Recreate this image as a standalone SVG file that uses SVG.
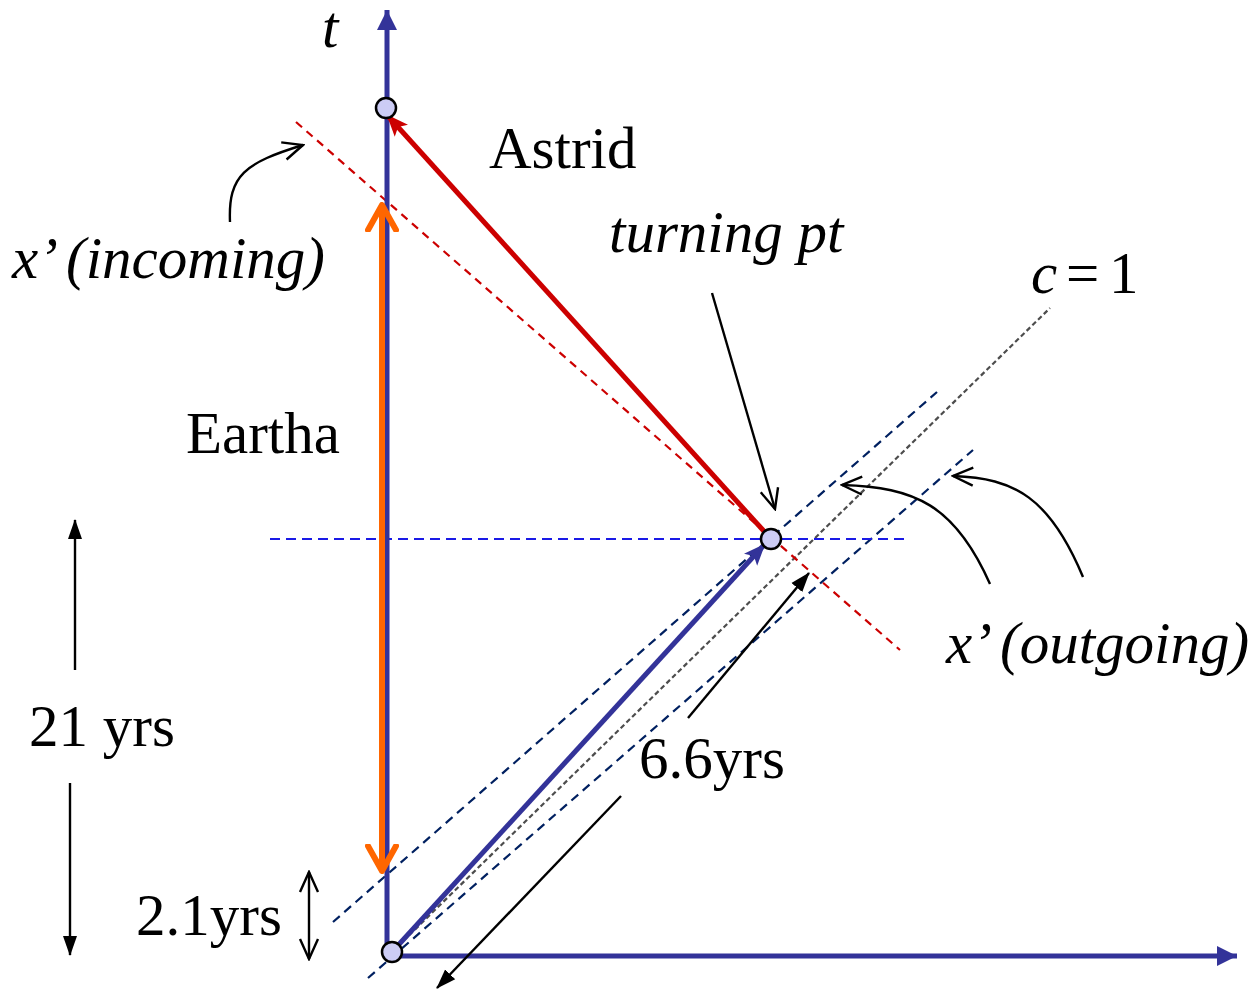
<svg xmlns="http://www.w3.org/2000/svg" width="1251" height="989" viewBox="0 0 1251 989">
<style>
text{font-family:"Liberation Serif","Times New Roman",serif;font-size:59px;fill:#000}
.it{font-style:italic}
.ptr{fill:none;stroke:#000;stroke-width:2.4}
.dash{fill:none;stroke-width:2.2}
.dot{fill:#ccccf5;stroke:#000;stroke-width:2.5}
</style>
<defs>
<marker id="axh" markerWidth="20" markerHeight="20" refX="20" refY="10" orient="auto" markerUnits="userSpaceOnUse" viewBox="0 0 20 20">
<path d="M0,0 L20,10 L0,20 Z" fill="#333399"/>
</marker>
<marker id="redh" markerWidth="22" markerHeight="20" refX="20" refY="10" orient="auto" markerUnits="userSpaceOnUse" viewBox="0 0 22 20">
<path d="M0,1 L22,10 L0,19 L5,10 Z" fill="#cc0000"/>
</marker>
<marker id="blueh" markerWidth="22" markerHeight="20" refX="20" refY="10" orient="auto" markerUnits="userSpaceOnUse" viewBox="0 0 22 20">
<path d="M0,1 L22,10 L0,19 L5,10 Z" fill="#333399"/>
</marker>
<marker id="orh" markerWidth="30" markerHeight="34" refX="27" refY="17" orient="auto" markerUnits="userSpaceOnUse" viewBox="0 0 30 34">
<path d="M2,3 L27,17 L2,31" fill="none" stroke="#ff6600" stroke-width="6" stroke-linecap="round" stroke-linejoin="round"/>
</marker>
<marker id="open" markerWidth="24" markerHeight="24" refX="22" refY="12" orient="auto" markerUnits="userSpaceOnUse" viewBox="0 0 24 24">
<path d="M2,3 L22,12 L2,21" fill="none" stroke="#000" stroke-width="2.4"/>
</marker>
<marker id="fill" markerWidth="20" markerHeight="16" refX="19" refY="8" orient="auto" markerUnits="userSpaceOnUse" viewBox="0 0 20 16">
<path d="M0,1 L20,8 L0,15 Z" fill="#000"/>
</marker>
</defs>

<g id="reference-lines">
<line class="dash" x1="392" y1="952" x2="1050" y2="308" stroke="#4d4d4d" stroke-dasharray="5,3"/>
<line class="dash" x1="333" y1="922" x2="937" y2="392" stroke="#002060" stroke-dasharray="9,6"/>
<line class="dash" x1="368" y1="978" x2="973" y2="450" stroke="#002060" stroke-dasharray="9,6"/>
<line class="dash" x1="270" y1="539" x2="905" y2="539" stroke="#1a1ae6" stroke-dasharray="10,6"/>
<line class="dash" x1="296" y1="122" x2="900" y2="650" stroke="#cc0000" stroke-dasharray="8,6"/>
</g>

<g id="axes">
<line x1="387" y1="955" x2="387" y2="10" stroke="#333399" stroke-width="5" marker-end="url(#axh)"/>
<line x1="385" y1="956" x2="1237" y2="956" stroke="#333399" stroke-width="5" marker-end="url(#axh)"/>
</g>

<g id="connectors">
<line x1="382" y1="860" x2="382" y2="205" stroke="#ff6600" stroke-width="6" marker-end="url(#orh)"/>
<line x1="382" y1="215" x2="382" y2="871" stroke="#ff6600" stroke-width="6" marker-end="url(#orh)"/>
<line x1="771" y1="539" x2="388" y2="116" stroke="#cc0000" stroke-width="5" marker-end="url(#redh)"/>
<line x1="392" y1="952" x2="764" y2="545" stroke="#333399" stroke-width="5" marker-end="url(#blueh)"/>
<line class="ptr" x1="712" y1="293" x2="775" y2="509" marker-end="url(#open)"/>
<path class="ptr" d="M230,222 C228,175 245,163 303,145" marker-end="url(#open)"/>
<path class="ptr" d="M990,584 C955,505 915,487 842,485" marker-end="url(#open)"/>
<path class="ptr" d="M1083,577 C1050,498 1015,478 953,476" marker-end="url(#open)"/>
<line class="ptr" x1="75" y1="670" x2="75" y2="520" marker-end="url(#fill)"/>
<line class="ptr" x1="70" y1="783" x2="70" y2="955" marker-end="url(#fill)"/>
<line class="ptr" x1="309" y1="915" x2="309" y2="872" marker-end="url(#open)"/>
<line class="ptr" x1="309" y1="915" x2="309" y2="959" marker-end="url(#open)"/>
<line class="ptr" x1="688" y1="718" x2="809" y2="573" marker-end="url(#fill)"/>
<line class="ptr" x1="621" y1="796" x2="437" y2="988" marker-end="url(#fill)"/>
</g>

<g id="node-top"><circle class="dot" cx="386" cy="108" r="10"/></g>
<g id="node-turn"><circle class="dot" cx="771" cy="539" r="10"/></g>
<g id="node-origin"><circle class="dot" cx="392" cy="952" r="10"/></g>

<g id="labels">
<text class="it" x="322" y="47" font-size="50">t</text>
<text x="489" y="168">Astrid</text>
<text class="it" x="609" y="252">turning pt</text>
<text x="1031" y="293"><tspan class="it">c</tspan><tspan x="1066">=</tspan><tspan x="1109">1</tspan></text>
<text class="it" x="12" y="278">x’ (incoming)</text>
<text x="186" y="453">Eartha</text>
<text class="it" x="946" y="663">x’ (outgoing)</text>
<text x="29" y="746">21 yrs</text>
<text x="639" y="778">6.6yrs</text>
<text x="136" y="935">2.1yrs</text>
</g>
</svg>
